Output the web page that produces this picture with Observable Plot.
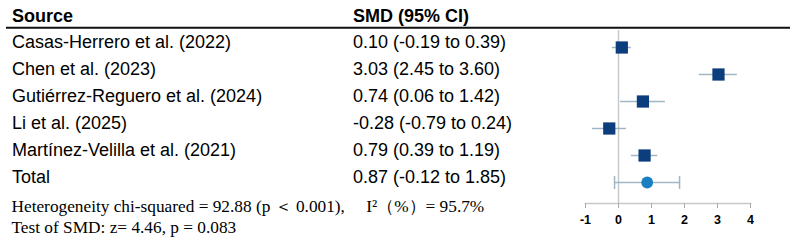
<!DOCTYPE html>
<html>
<head>
<meta charset="utf-8">
<script src="https://cdn.jsdelivr.net/npm/d3@7"></script>
<script src="https://cdn.jsdelivr.net/npm/@observablehq/plot@0.6"></script>
<style>
  html, body { margin: 0; padding: 0; background: #ffffff; }
  #chart svg { display: block; }
</style>
</head>
<body>
<div id="chart"></div>
<script>
// ---- data ----
const studies = [
  "Casas-Herrero et al. (2022)",
  "Chen et al. (2023)",
  "Gutiérrez-Reguero et al. (2024)",
  "Li et al. (2025)",
  "Martínez-Velilla et al. (2021)"
];
const smd   = [0.10, 3.03, 0.74, -0.28, 0.79];
const lower = [-0.19, 2.45, 0.06, -0.79, 0.39];
const upper = [0.39, 3.60, 1.42, 0.24, 1.19];

const totalLabel = "Total";
const totalSMD = 0.87;
const totalLower = -0.12;
const totalUpper = 1.85;

const headers = ["Source", "SMD (95% CI)"];
const xTicks = [-1, 0, 1, 2, 3, 4];
const footnotes = [
  "Heterogeneity chi-squared = 92.88 (p \uFF1C 0.001),\u3000 I\u00B2\uFF08%\uFF09= 95.7%",
  "Test of SMD: z= 4.46, p = 0.083"
];

// ---- derived tables ----
const rows = studies.map((s, i) => ({label: s, smd: smd[i], lo: lower[i], hi: upper[i]}));
const total = {label: totalLabel, smd: totalSMD, lo: totalLower, hi: totalUpper};
const all = [...rows, total];
const fmt = v => v.toFixed(2);
const ciText = d => `${fmt(d.smd)} (${fmt(d.lo)} to ${fmt(d.hi)})`;

// ---- styles ----
const SANS = "'Liberation Sans', Arial, Helvetica, sans-serif";
const SERIF = "'Liberation Serif', 'Times New Roman', Times, serif";
const navy = "#0c3d7d";
const totalBlue = "#1a80c2";
const ciColor = "#9fb6c4";
const gridGray = "#c8c8c8";

const nameDx = -573.5;
const smdDx = -232.5;

const capSymbol = {
  draw(ctx, size) {
    const r = Math.sqrt(size / Math.PI);
    ctx.moveTo(0, -r);
    ctx.lineTo(0, r);
  }
};

const headerRule = (index, scales, values, dims) => {
  const line = document.createElementNS("http://www.w3.org/2000/svg", "line");
  line.setAttribute("x1", 6);
  line.setAttribute("x2", dims.width - 6);
  line.setAttribute("y1", dims.marginTop - 2.3);
  line.setAttribute("y2", dims.marginTop - 2.3);
  line.setAttribute("stroke", "#111");
  line.setAttribute("stroke-width", 2);
  return line;
};

const chart = Plot.plot({
  width: 796,
  height: 243,
  marginLeft: 585,
  marginRight: 46,
  marginTop: 30,
  marginBottom: 40,
  style: {fontFamily: SANS, background: "#ffffff", color: "#000"},
  x: {domain: [-1, 4], axis: null},
  y: {type: "point", domain: all.map(d => d.label), range: [45.7, 184], padding: 0, axis: null},
  marks: [
    headerRule,
    Plot.frame({anchor: "bottom", stroke: gridGray, strokeWidth: 1.5}),
    Plot.ruleX([0], {stroke: gridGray, strokeWidth: 1.5}),
    Plot.axisX({ticks: xTicks, tickSize: 5, tickPadding: 7, stroke: "#aaaaaa", fill: "#000",
                fontWeight: "bold", fontSize: 12.5, tickFormat: d => String(d)}),
    // header texts
    Plot.text([headers[0]], {frameAnchor: "top-left", text: d => d, dx: nameDx, dy: -8.3,
      lineAnchor: "bottom", textAnchor: "start", fontWeight: "bold", fontSize: 18, fill: "#000"}),
    Plot.text([headers[1]], {frameAnchor: "top-left", text: d => d, dx: smdDx, dy: -8.3,
      lineAnchor: "bottom", textAnchor: "start", fontWeight: "bold", fontSize: 18, fill: "#000"}),
    // table columns
    Plot.text(all, {y: "label", text: "label", frameAnchor: "left", dx: nameDx, dy: 0,
      lineAnchor: "bottom", textAnchor: "start", fontSize: 18, fill: "#000"}),
    Plot.text(all, {y: "label", text: ciText, frameAnchor: "left", dx: smdDx, dy: 0,
      lineAnchor: "bottom", textAnchor: "start", fontSize: 18, fill: "#000"}),
    // study CIs and estimates
    Plot.ruleY(rows, {y: "label", x1: "lo", x2: "hi", stroke: ciColor, strokeWidth: 1.5}),
    Plot.dot(rows, {x: "smd", y: "label", symbol: "square", r: 6.9, fill: navy, stroke: "none"}),
    // total
    Plot.ruleY([total], {y: "label", x1: "lo", x2: "hi", stroke: ciColor, strokeWidth: 1.5}),
    Plot.dot([total.lo, total.hi], {x: d => d, y: () => totalLabel, symbol: capSymbol, r: 6.5,
      fill: "none", stroke: ciColor, strokeWidth: 1.5}),
    Plot.dot([total], {x: "smd", y: "label", r: 5.9, fill: totalBlue, stroke: "none"}),
    // footnotes
    Plot.text([footnotes[0]], {frameAnchor: "bottom-left", text: d => d, dx: -574, dy: 8.7,
      lineAnchor: "bottom", textAnchor: "start", fontFamily: SERIF, fontSize: 17.3, fill: "#000"}),
    Plot.text([footnotes[1]], {frameAnchor: "bottom-left", text: d => d, dx: -574, dy: 29.4,
      lineAnchor: "bottom", textAnchor: "start", fontFamily: SERIF, fontSize: 17.3, fill: "#000"})
  ]
});

document.getElementById("chart").appendChild(chart);
</script>
</body>
</html>
